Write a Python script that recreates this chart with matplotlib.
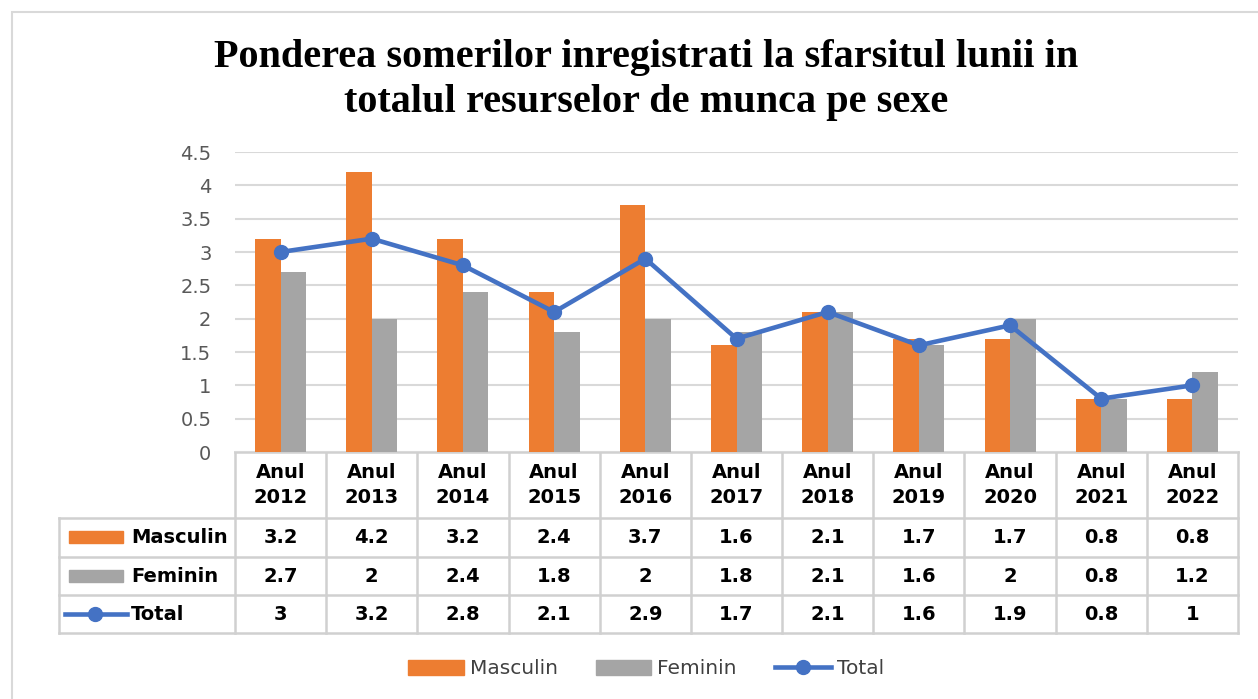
import numpy as np
import matplotlib.pyplot as plt
import matplotlib.transforms as mtransforms
from matplotlib.patches import Rectangle
from matplotlib.lines import Line2D

# Data
years = ['2012', '2013', '2014', '2015', '2016', '2017', '2018', '2019', '2020', '2021', '2022']
masculin = [3.2, 4.2, 3.2, 2.4, 3.7, 1.6, 2.1, 1.7, 1.7, 0.8, 0.8]
feminin = [2.7, 2, 2.4, 1.8, 2, 1.8, 2.1, 1.6, 2, 0.8, 1.2]
total = [3, 3.2, 2.8, 2.1, 2.9, 1.7, 2.1, 1.6, 1.9, 0.8, 1]
series_names = ['Masculin', 'Feminin', 'Total']
yticks = [0, 0.5, 1, 1.5, 2, 2.5, 3, 3.5, 4, 4.5]

c_orange = '#ED7D31'
c_gray = '#A5A5A5'
c_blue = '#4472C4'
c_grid = '#D9D9D9'
font = 'DejaVu Sans'

W, H = 1258, 699
fig = plt.figure(figsize=(W / 100, H / 100), dpi=100)

# outer chart border
fig.patches.append(Rectangle((12 / W, -0.01), 1.0, 1 - 12 / H + 0.01, transform=fig.transFigure,
                             fill=False, edgecolor='#D9D9D9', linewidth=1.5))

# plot area in pixels: x 235..1238, y 152..452
ax = fig.add_axes([235 / W, 1 - 452 / H, (1238 - 235) / W, 300 / H])
x = np.arange(len(years))
bw = 0.28
ax.bar(x - bw / 2, masculin, bw, color=c_orange, zorder=2)
ax.bar(x + bw / 2, feminin, bw, color=c_gray, zorder=2)
ax.plot(x, total, color=c_blue, linewidth=3.3, marker='o', markersize=10, zorder=3)

ax.set_xlim(-0.5, len(years) - 0.5)
ax.set_ylim(0, 4.5)
ax.set_yticks(yticks)
ax.set_yticklabels([f'{v:g}' for v in yticks], fontsize=14, color='#595959', fontname=font)
ax.tick_params(axis='y', length=0, pad=17)
ax.set_xticks([])
ax.grid(axis='y', color=c_grid, linewidth=1.5, zorder=0)
for s in ax.spines.values():
    s.set_visible(False)

# data table below the plot (x in data units, y in axes fraction)
trans = mtransforms.blended_transform_factory(ax.transData, ax.transAxes)
def py(p):
    return (452 - p) / 300
colw = (1238 - 235) / len(years)
left = (59 - 235) / colw - 0.5
right = len(years) - 0.5
lkw = dict(color='#D0D0D0', linewidth=1.8, transform=trans, clip_on=False, zorder=1)

ax.plot([-0.5, right], [0, 0], **lkw)
for yy in [518, 557, 595, 633]:
    ax.plot([left, right], [py(yy), py(yy)], **lkw)
for i in range(len(years) + 1):
    ax.plot([i - 0.5, i - 0.5], [0, py(633)], **lkw)
ax.plot([left, left], [py(518), py(633)], **lkw)

tkw = dict(transform=trans, ha='center', va='center', fontsize=14, fontweight='bold',
           fontname=font, color='black', clip_on=False)
for i, yr in enumerate(years):
    ax.text(i, py(485), 'Anul\n' + yr, linespacing=1.45, **tkw)
    ax.text(i, py(537.5), f'{masculin[i]:g}', **tkw)
    ax.text(i, py(576), f'{feminin[i]:g}', **tkw)
    ax.text(i, py(614), f'{total[i]:g}', **tkw)

# row labels with legend keys
kx0 = left + (69 - 59) / colw
kx1 = left + (123 - 59) / colw
ax.add_patch(Rectangle((kx0, py(543)), kx1 - kx0, py(531) - py(543), transform=trans,
                       color=c_orange, clip_on=False))
ax.add_patch(Rectangle((kx0, py(582)), kx1 - kx0, py(570) - py(582), transform=trans,
                       color=c_gray, clip_on=False))
ax.plot([left + (65 - 59) / colw, left + (127 - 59) / colw], [py(614), py(614)], color=c_blue,
        linewidth=3.3, transform=trans, clip_on=False)
ax.plot([left + (95 - 59) / colw], [py(614)], marker='o', markersize=10, color=c_blue,
        transform=trans, clip_on=False)
rkw = dict(transform=trans, ha='left', va='center', fontsize=14, fontweight='bold',
           fontname=font, color='black', clip_on=False)
lx = left + (131 - 59) / colw
for name, yy in zip(series_names, [537.5, 576, 614]):
    ax.text(lx, py(yy), name, **rkw)

# title
fig.text(646 / W, 1 - 80 / H, 'Ponderea somerilor inregistrati la sfarsitul lunii in\ntotalul resurselor de munca pe sexe',
         ha='center', va='center', fontsize=29, fontweight='bold', fontname='Liberation Serif',
         linespacing=1.3)

# bottom legend
handles = [Rectangle((0, 0), 1, 1, color=c_orange),
           Rectangle((0, 0), 1, 1, color=c_gray),
           Line2D([0], [0], color=c_blue, linewidth=3.3, marker='o', markersize=10)]
fig.legend(handles, series_names, loc='center', bbox_to_anchor=(646 / W, 1 - 669 / H), ncol=3,
           frameon=False, prop={'family': font, 'size': 14.5}, labelcolor='#404040',
           handlelength=2.75, handleheight=0.7, handletextpad=0.3, columnspacing=1.9)

fig.savefig('out.png', dpi=100)
